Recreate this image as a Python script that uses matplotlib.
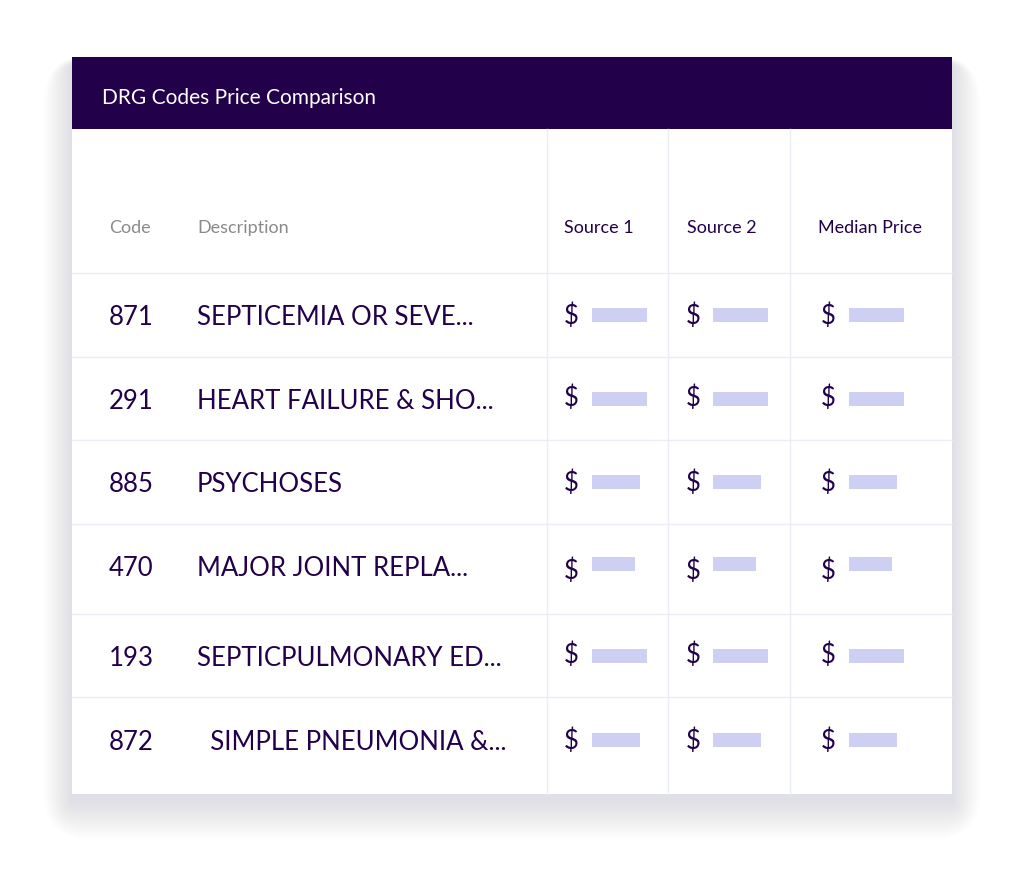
import matplotlib.pyplot as plt
from matplotlib.patches import Rectangle, FancyBboxPatch

plt.rcParams["font.family"] = "Lato"

TITLE = "DRG Codes Price Comparison"
columns = ["Code", "Description", "Source 1", "Source 2", "Median Price"]
codes = ["871", "291", "885", "470", "193", "872"]
descriptions = ["SEPTICEMIA OR SEVE...", "HEART FAILURE & SHO...", "PSYCHOSES",
                "MAJOR JOINT REPLA...", "SEPTICPULMONARY ED...", "  SIMPLE PNEUMONIA &..."]
# placeholder bar lengths (px) for each source column
source1 = [55, 55, 48, 43, 55, 48]
source2 = [55, 55, 48, 43, 55, 48]
median = [55, 55, 48, 43, 55, 48]

DARK = "#22004a"
BAR = "#cdd0f2"
GRID = "#ececf5"

fig = plt.figure(figsize=(10.24, 8.79), dpi=100)
ax = fig.add_axes([0, 0, 1, 1])
ax.set_xlim(0, 1024)
ax.set_ylim(879, 0)
ax.axis("off")

# soft shadow
for i in range(16):
    pad = 2 + i * 3
    ax.add_patch(FancyBboxPatch((72 - pad * 0.6, 66 - pad * 0.2), 880 + pad * 1.2, 737 + pad * 1.0,
                                boxstyle="round,pad=0,rounding_size=%d" % pad,
                                fc="#3a3070", ec="none", alpha=0.006, zorder=0))

ax.add_patch(Rectangle((72, 58), 880, 737, fc="white", ec="none", zorder=1))
ax.add_patch(Rectangle((72, 58), 880, 72, fc=DARK, ec="none", zorder=2))
ax.text(102, 98, TITLE, color="white", fontsize=15, va="center", zorder=3)

col_x = [547, 668, 790]
for x in col_x:
    ax.plot([x, x], [130, 795], color=GRID, lw=1, zorder=2)
row_lines = [274, 358, 441, 525, 615, 698]
for y in row_lines:
    ax.plot([72, 952], [y, y], color=GRID, lw=1, zorder=2)

hx = [109, 197, 564, 687, 818]
for i, (x, c) in enumerate(zip(hx, columns)):
    ax.text(x, 228, c, fontsize=13, va="center",
            color="#8a8a8a" if i < 2 else DARK, zorder=3)

row_y = [316, 400, 483, 567, 657, 741]
dollar_x = [564, 686, 821]
bar_x = [592, 713, 849]
for r, y in enumerate(row_y):
    ax.text(109, y + 2, codes[r], fontsize=18.5, va="center", color=DARK, zorder=3)
    ax.text(197, y + 2, descriptions[r], fontsize=18.5, va="center", color=DARK, zorder=3)
    dy = 4 if r == 3 else -2 if r in (1, 4) else 0
    for dx, bx, vals in zip(dollar_x, bar_x, [source1, source2, median]):
        ax.text(dx, y + dy, "$", fontsize=18.5, va="center", color=DARK, zorder=3)
        ax.add_patch(Rectangle((bx, y - 7 - (2 if r == 3 else 0)), vals[r], 14,
                               fc=BAR, ec="none", zorder=3))

fig.savefig("out.png", dpi=100)
